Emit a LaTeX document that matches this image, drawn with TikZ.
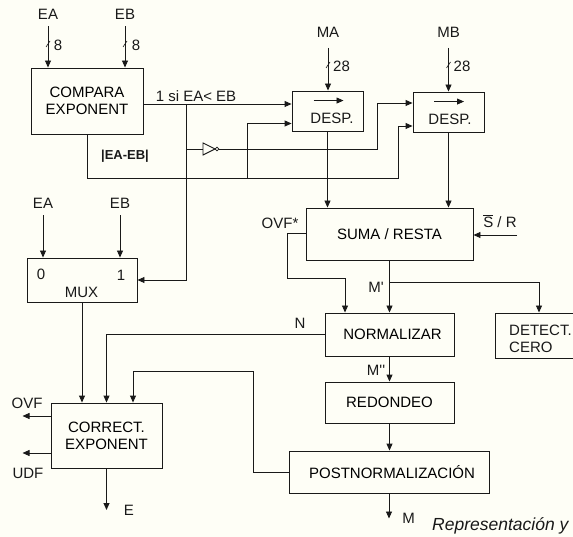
\documentclass[tikz,border=0pt]{standalone}
\usepackage{fontspec}
\setmainfont{Liberation Sans}
\usepackage{tikz}
\usetikzlibrary{arrows.meta, positioning}
\definecolor{FPPaper}{RGB}{254,254,246}
\definecolor{FPInk}{RGB}{25,25,25}

\begin{document}
\begin{tikzpicture}[x=1pt, y=-1pt,
      font=\fontsize{15}{17}\selectfont,
      nbox/.style={rectangle, draw=FPInk, line width=0.9pt, inner sep=0pt,
                   align=center},
      lbl/.style={inner sep=1pt, text=FPInk},
      wire/.style={draw=FPInk, line width=0.9pt},
      arr/.style={wire, -{Triangle[length=7pt, width=6pt]}}
    ]
    \fill[FPPaper] (0,0) rectangle (573,537);
    \useasboundingbox (0,0) rectangle (573,537);

    \node[nbox, minimum width=112pt, minimum height=66pt] (comp) at (87,101)
          {COMPARA\\EXPONENT};
    \node[nbox, minimum width=71pt, minimum height=40pt]  (desA) at (327.5,111) {};
    \node[nbox, minimum width=71pt, minimum height=40pt]  (desB) at (448.5,112) {};
    \node[nbox, minimum width=167pt, minimum height=52pt] (suma) at (389.5,234)
          {SUMA / RESTA};
    \node[nbox, minimum width=110pt, minimum height=44pt] (mux)  at (82,280) {};
    \node[nbox, minimum width=129pt, minimum height=43pt] (norm) at (389.5,334.5)
          {\hspace*{6pt}NORMALIZAR};
    \node[nbox, minimum width=88pt, minimum height=45pt]  (detc) at (539,335.5) {};
    \node[nbox, minimum width=129pt, minimum height=41pt] (redo) at (389.5,402.5)
          {REDONDEO};
    \node[nbox, minimum width=111pt, minimum height=65pt] (corr) at (106.5,435.5)
          {CORRECT.\\EXPONENT};
    \node[nbox, minimum width=200pt, minimum height=42pt] (post) at (389,472)
          {\hspace*{6pt}POSTNORMALIZACIÓN};

    \node[lbl] (desAt) at (332,118) {DESP.};
    \node[lbl] (desBt) at (450,119) {DESP.};
    \draw[arr, line width=0.8pt] ([xshift=-14pt, yshift=-10pt]desA.north) -- ++(30,0);
    \draw[arr, line width=0.8pt] ([xshift=-14.5pt, yshift=-10pt]desB.north) -- ++(30,0);
    \node[lbl, anchor=west, align=left] (detct) at (508,338.5) {DETECT.\\CERO};
    \node[lbl] (mux0) at (41,274) {0};
    \node[lbl] (mux1) at (121,275) {1};
    \node[lbl] (muxt) at (81.5,292) {MUX};

    \node[lbl] (eaT) at (48,14) {EA};
    \node[lbl] (ebT) at (125,14) {EB};
    \node[lbl] (maT) at (328,32) {MA};
    \node[lbl] (mbT) at (448.5,32) {MB};
    \node[lbl] (eaM) at (43,203) {EA};
    \node[lbl] (ebM) at (120,203) {EB};

    \draw[arr] ([yshift=-6pt]eaT.south) -- (eaT.south |- comp.north);
    \draw[arr] ([yshift=-6pt]ebT.south) -- (ebT.south |- comp.north);
    \draw[arr] ([yshift=-9.5pt]maT.south) -- (maT.south |- desA.north);
    \draw[arr] ([yshift=-9.5pt]mbT.south) -- (mbT.south |- desB.north);
    \draw[arr] ([yshift=-6pt]eaM.south) -- (eaM.south |- mux.north);
    \draw[arr] ([yshift=-6pt]ebM.south) -- (ebM.south |- mux.north);

    \foreach \x/\y/\w/\t in {48/44/58/8, 125/44/136/8, 328/65/341.5/28, 448.5/65/462/28}{
      \draw[FPInk, line width=0.6pt] (\x-2,\y+3) -- (\x+2,\y-3);
      \node[lbl] at (\w,\y+1) {\t};
    }

    \node[lbl] (ltA) at (196,96) {1 si EA< EB};
    \node[lbl, font=\fontsize{13}{15}\selectfont\bfseries] (ldif) at (125,156) {|EA-EB|};
    \coordinate (jA) at (186,104);
    \coordinate (jB) at (186,149);
    \coordinate (inv) at (203,149);
    \coordinate (kB) at (377,149);
    \coordinate (kD) at (398,178);
    \coordinate (kE) at (247,178);

    \draw[arr] ([yshift=-3pt]comp.east) -- ([yshift=-3pt]comp.east -| desA.west);
    \draw[arr] (jA) |- (mux.east);
    \draw[wire] (jB) -- (inv);
    \draw[wire] (inv) -- ++(0,-6) -- ++(12,6) -- ++(-12,6) -- cycle;
    \draw[wire, line width=0.7pt] ([xshift=14pt]inv) circle (1.8);
    \draw[arr] ([xshift=16pt]inv) -- (kB) |- ([yshift=9pt]desB.west);
    \draw[arr] (comp.south) |- (kD) |- ([yshift=-14pt]desB.west);
    \draw[arr] (kE) |- ([yshift=-12.5pt]desA.west);

    \draw[arr] (desA.south) -- (desA.south |- suma.north);
    \draw[arr] (desB.south) -- (desB.south |- suma.north);

    \node[lbl] (sr) at (500,221) {$\overline{\hbox{S}}$ / R};
    \coordinate (srin) at (517,235);
    \draw[arr] (srin) -- (srin -| suma.east);

    \node[lbl] (ovfs) at (280,223) {OVF*};
    \coordinate (kF) at (287,278);
    \draw[arr] ([yshift=1pt]suma.west) -| (kF) -| ([xshift=-44.5pt]norm.north);

    \coordinate (jM) at (389.5,282);
    \draw[arr] (suma.south) -- (norm.north);
    \draw[arr] (jM) -| (detc.north);
    \node[lbl] (lm1) at (376,287) {M\textquotesingle};
    \node[lbl] (lm2) at (376,370) {M\textquotesingle\textquotesingle};
    \node[lbl] (ln)  at (300,323) {N};

    \draw[arr] (norm.west) -| (corr.north);
    \draw[arr] (mux.south) -- (mux.south |- corr.north);
    \draw[arr] (norm.south) -- (redo.north);
    \draw[arr] (redo.south) -- (redo.south |- post.north);

    \coordinate (kG) at (253,371);
    \draw[arr] (post.west) -| (kG) -| ([xshift=26.5pt]corr.north);

    \node[lbl] (lovf) at (27,403) {OVF};
    \node[lbl] (ludf) at (28,473) {UDF};
    \draw[arr] ([yshift=19.5pt]corr.west) -- ([yshift=19.5pt, xshift=-28pt]corr.west);
    \draw[arr] ([yshift=-17.5pt]corr.west) -- ([yshift=-17.5pt, xshift=-28pt]corr.west);

    \node[lbl] (le) at (129,510) {E};
    \draw[arr] (corr.south) -- (corr.south |- le.center);
    \node[lbl] (lmo) at (408.5,518.5) {M};
    \draw[arr] (post.south) -- (post.south |- lmo.center);

    \node[lbl, font=\fontsize{17.5}{20}\selectfont\itshape, anchor=base west]
          (rep) at (431,530.5) {Representación y};
  \end{tikzpicture}
\end{document}
